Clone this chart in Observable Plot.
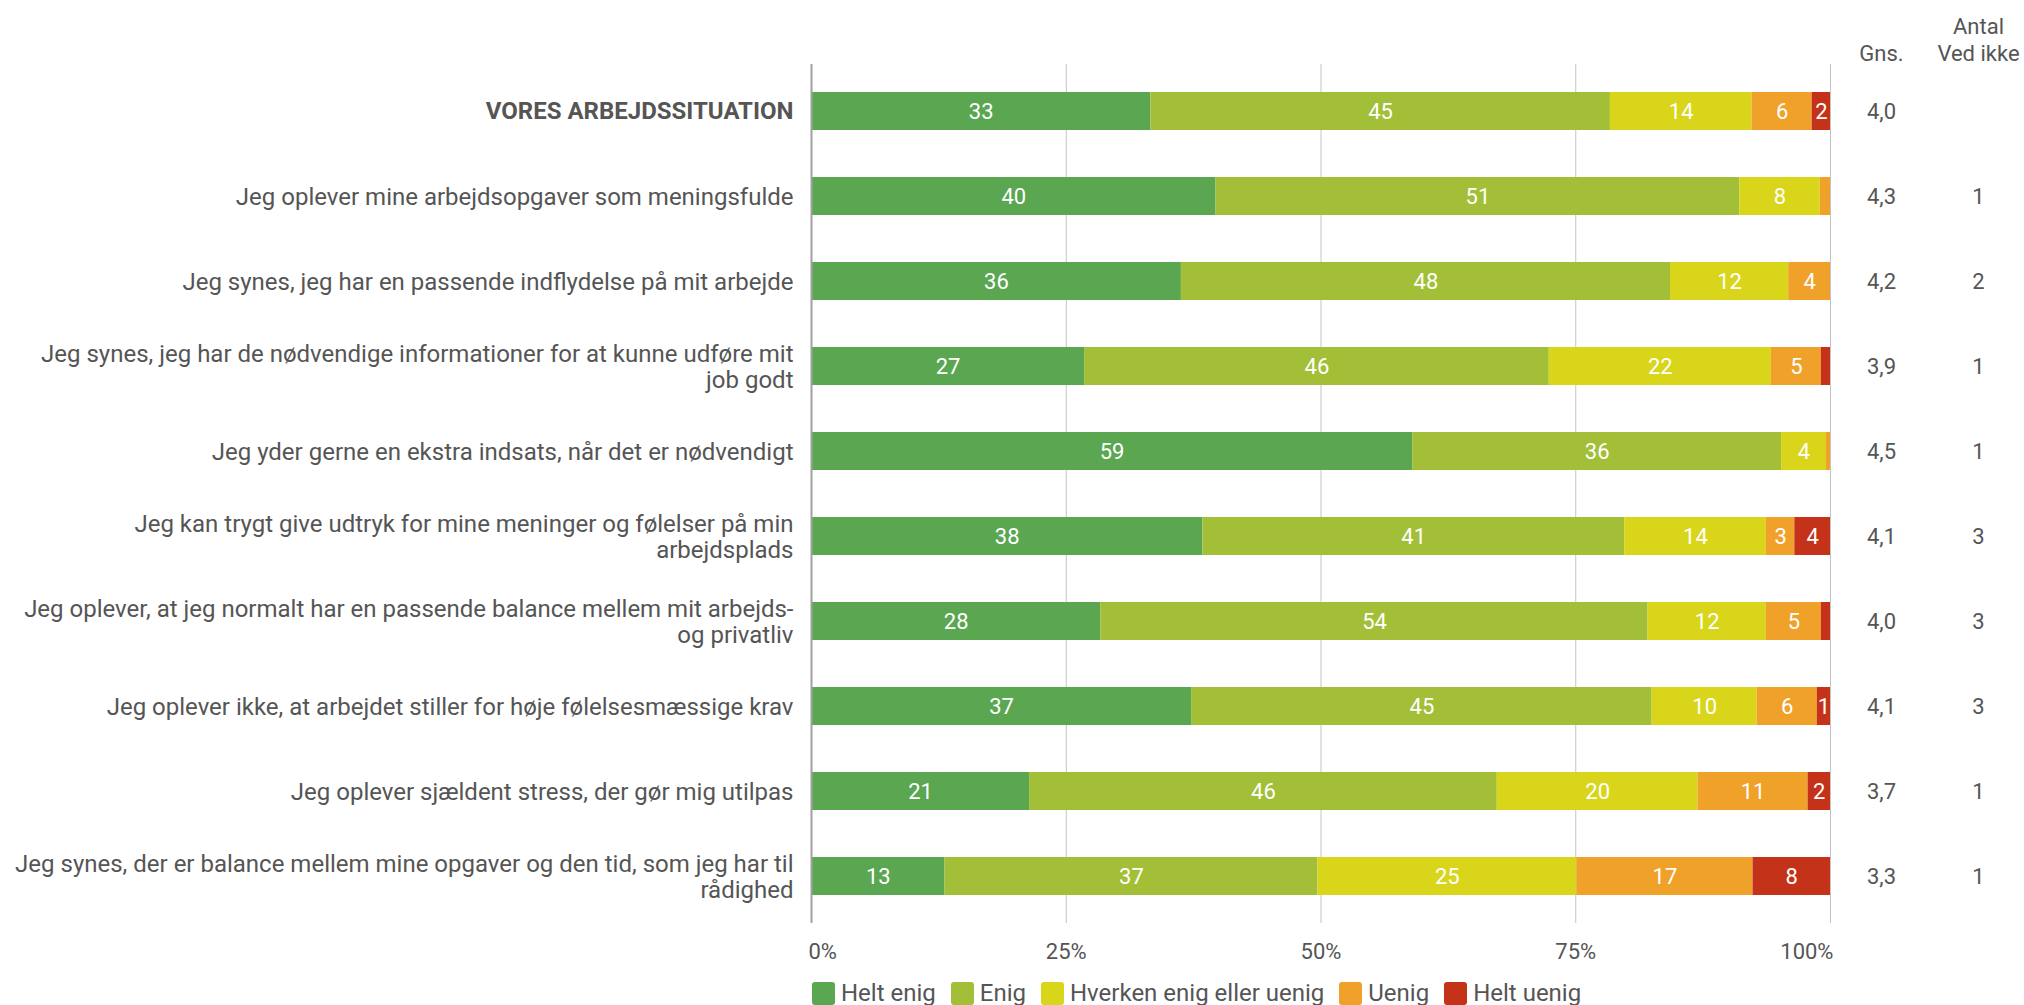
<!DOCTYPE html>
<html>
<head>
<meta charset="utf-8">
<script src="https://cdn.jsdelivr.net/npm/d3@7"></script>
<script src="https://cdn.jsdelivr.net/npm/@observablehq/plot@0.6"></script>
<style>
  html, body { margin: 0; padding: 0; background: #fff; }
  body { width: 2024px; height: 1005px; overflow: hidden; font-family: Roboto, "Noto Sans", sans-serif; }
  #chart svg { display: block; }
  #legend { display: flex; align-items: center; height: 30px; margin-left: 812px; font-size: 24px; line-height: 30px; color: #555; }
  #legend .item { display: flex; align-items: center; margin-right: 15px; }
  #legend .sw { width: 23px; height: 23px; border-radius: 3px; margin-right: 6px; }
</style>
</head>
<body>
<div id="chart"></div>
<div id="legend"></div>
<script>
const questions = [
  "VORES ARBEJDSSITUATION",
  "Jeg oplever mine arbejdsopgaver som meningsfulde",
  "Jeg synes, jeg har en passende indflydelse på mit arbejde",
  "Jeg synes, jeg har de nødvendige informationer for at kunne udføre mit\njob godt",
  "Jeg yder gerne en ekstra indsats, når det er nødvendigt",
  "Jeg kan trygt give udtryk for mine meninger og følelser på min\narbejdsplads",
  "Jeg oplever, at jeg normalt har en passende balance mellem mit arbejds-\nog privatliv",
  "Jeg oplever ikke, at arbejdet stiller for høje følelsesmæssige krav",
  "Jeg oplever sjældent stress, der gør mig utilpas",
  "Jeg synes, der er balance mellem mine opgaver og den tid, som jeg har til\nrådighed"
];
const categories = ["Helt enig", "Enig", "Hverken enig eller uenig", "Uenig", "Helt uenig"];
const colors = ["#5aa651", "#a2bf37", "#d9d51b", "#f0a12a", "#c5321a"];
const heltEnig  = [33.3, 39.7, 36.3, 26.8, 59.0, 38.4, 28.4, 37.3, 21.4, 13.1];
const enig      = [45.1, 51.4, 48.0, 45.6, 36.2, 41.4, 53.7, 45.2, 45.9, 36.6];
const hverken   = [13.9,  7.9, 11.6, 21.8,  4.4, 13.9, 11.6, 10.3, 19.7, 25.4];
const uenig     = [ 5.9,  1.0,  4.1,  4.9,  0.4,  2.8,  5.4,  5.9, 10.8, 17.3];
const heltUenig = [ 1.8,  0.0,  0.0,  0.9,  0.0,  3.5,  0.9,  1.3,  2.2,  7.6];
const gns = ["4,0", "4,3", "4,2", "3,9", "4,5", "4,1", "4,0", "4,1", "3,7", "3,3"];
const vedIkke = ["", "1", "2", "1", "1", "3", "3", "3", "1", "1"];
const xTicks = [0, 25, 50, 75, 100];

const series = [heltEnig, enig, hverken, uenig, heltUenig];
const long = [];
questions.forEach((q, i) => {
  categories.forEach((c, j) => long.push({q, cat: c, value: series[j][i]}));
});
const rows = questions.map((q, i) => ({q, gns: gns[i], ved: vedIkke[i], bold: i === 0}));

const textColor = "#555";
const fs = 22;
const fsLabel = 24;

const chart = Plot.plot({
  width: 2024,
  height: 978,
  marginLeft: 811,
  marginRight: 194,
  marginTop: 64,
  marginBottom: 55,
  style: {fontFamily: "Roboto, 'Noto Sans', sans-serif", background: "#fff", overflow: "visible"},
  x: {domain: [0, 100], axis: null},
  y: {domain: questions, axis: null, paddingInner: 0.55, paddingOuter: 0.275},
  color: {domain: categories, range: colors},
  marks: [
    Plot.ruleX(xTicks.slice(1), {stroke: "#c4c4c4", strokeWidth: 1}),
    Plot.barX(long, Plot.stackX({x: "value", y: "q", fill: "cat"})),
    Plot.ruleX([0], {stroke: "#a0a0a0", strokeWidth: 2}),
    Plot.text(long, Plot.stackX({
      x: "value", y: "q", z: "cat",
      text: d => d.value >= 1.2 ? String(Math.round(d.value)) : "",
      fill: "#fff", fontSize: fs
    })),
    Plot.text(rows.filter(d => !d.bold), {x: 0, y: "q", text: "q", textAnchor: "end", dx: -18, fill: textColor, fontSize: fsLabel, lineHeight: 1.08}),
    Plot.text(rows.filter(d => d.bold), {x: 0, y: "q", text: "q", textAnchor: "end", dx: -18, fill: textColor, fontSize: fsLabel, fontWeight: "bold"}),
    Plot.text(rows, {y: "q", frameAnchor: "right", dx: 51, text: "gns", textAnchor: "middle", fill: textColor, fontSize: fs}),
    Plot.text(rows, {y: "q", frameAnchor: "right", dx: 148, text: "ved", textAnchor: "middle", fill: textColor, fontSize: fs}),
    Plot.text(["Gns."], {frameAnchor: "top-right", dx: 51, dy: -11, text: d => d, textAnchor: "middle", lineAnchor: "middle", fill: textColor, fontSize: fs}),
    Plot.text(["Antal\nVed ikke"], {frameAnchor: "top-right", dx: 148, dy: -25.5, text: d => d, textAnchor: "middle", lineAnchor: "middle", lineHeight: 1.23, fill: textColor, fontSize: fs}),
    Plot.text([xTicks[0]], {x: d => d, frameAnchor: "bottom", dy: 28, dx: -3, text: d => d + "%", textAnchor: "start", lineAnchor: "middle", fill: textColor, fontSize: fs}),
    Plot.text(xTicks.slice(1, -1), {x: d => d, frameAnchor: "bottom", dy: 28, text: d => d + "%", textAnchor: "middle", lineAnchor: "middle", fill: textColor, fontSize: fs}),
    Plot.text([xTicks[xTicks.length - 1]], {x: d => d, frameAnchor: "bottom", dy: 28, dx: 3, text: d => d + "%", textAnchor: "end", lineAnchor: "middle", fill: textColor, fontSize: fs})
  ]
});
document.getElementById("chart").appendChild(chart);

const legend = document.getElementById("legend");
categories.forEach((c, i) => {
  const item = document.createElement("div");
  item.className = "item";
  const sw = document.createElement("div");
  sw.className = "sw";
  sw.style.background = colors[i];
  const lab = document.createElement("span");
  lab.textContent = c;
  item.appendChild(sw);
  item.appendChild(lab);
  legend.appendChild(item);
});
</script>
</body>
</html>
